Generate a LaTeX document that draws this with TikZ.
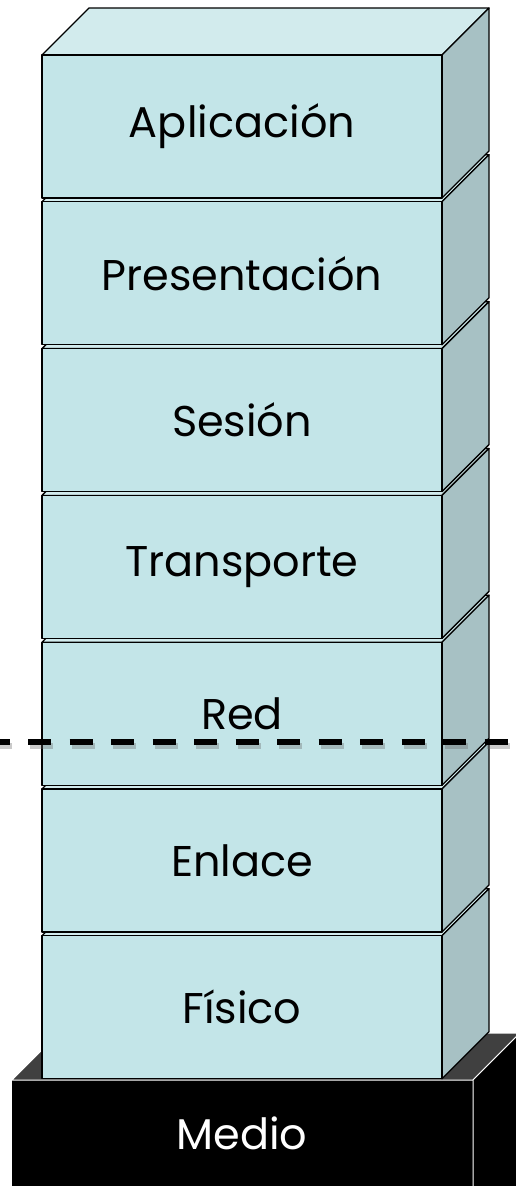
\documentclass[tikz,border=0pt]{standalone}
\usepackage{fontspec}
\setmainfont{Poppins}
\definecolor{capafrente}{RGB}{195,229,232}
\definecolor{capatapa}{RGB}{210,235,237}
\definecolor{capalado}{RGB}{167,193,196}
\definecolor{mediotapa}{RGB}{64,64,64}
\tikzset{
  borde/.style={draw=black,line width=1.3pt,line join=round},
  capa/.style={font=\fontsize{43}{47}\selectfont,text=black},
  corte/.style={line width=6pt,dash pattern=on 23pt off 18.5pt}
}
\begin{document}
\begin{tikzpicture}[x=1pt,y=-1pt]
        \useasboundingbox (0,0) rectangle (516,1186);
        % medio fisico
        \fill[black] (12,1080) rectangle (473,1200);
        \filldraw[draw=white,line width=1pt,fill=mediotapa](12,1080)--(59,1033)--(520,1033)--(473,1080)--cycle;
        \filldraw[draw=white,line width=1pt,fill=black](473,1080)--(520,1033)--(520,1200)--(473,1200)--cycle;
        \node[capa,text=white] (medio) at (242,1133) {Medio};
        % capas OSI, de abajo hacia arriba
        \foreach \nombre [count=\i] in {Físico,Enlace,Red,Transporte,Sesión,Presentación,Aplicación}{
          \pgfmathsetmacro{\y}{55+146.8*(7-\i)}
          \filldraw[borde,fill=capatapa](42,\y)--(89,\y-47)--(489,\y-47)--(442,\y)--cycle;
          \filldraw[borde,fill=capalado](442,\y)--(489,\y-47)--(489,\y+96)--(442,\y+143)--cycle;
          \filldraw[borde,fill=capafrente](42,\y) rectangle (442,\y+143);
          \node[capa] (capa\i) at (242,\y+71.5) {\nombre};
        }
        % linea de corte
        \coordinate (corteI) at (-13.5,742);
        \coordinate (corteD) at (530,742);
        \draw[corte,black!60,opacity=0.35,transform canvas={shift={(2pt,-4pt)}}](corteI)--(corteD);
        \draw[corte](corteI)--(corteD);
    \end{tikzpicture}
\end{document}
